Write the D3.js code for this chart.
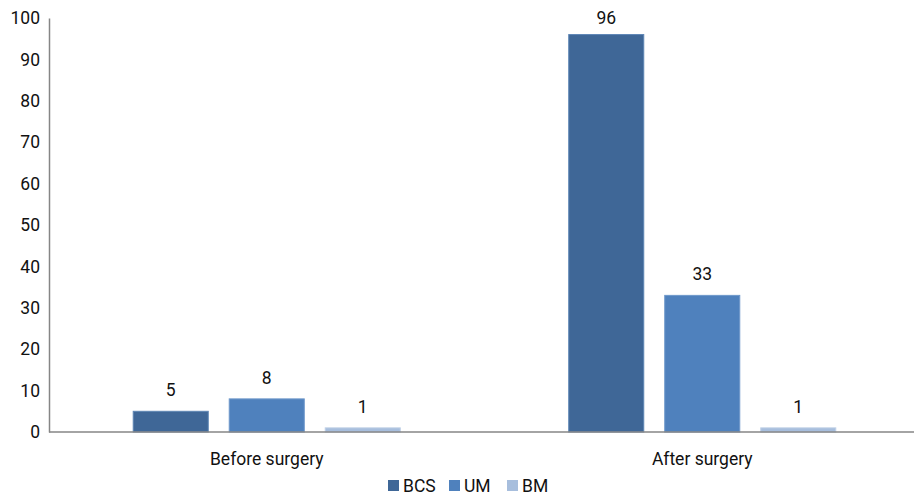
<!DOCTYPE html>
<html>
<head>
<meta charset="utf-8">
<script src="https://cdn.jsdelivr.net/npm/d3@7"></script>
<style>
  html, body { margin: 0; padding: 0; background: #fff; }
  svg { display: block; }
  text { font-family: Roboto, "Noto Sans", sans-serif; font-size: 17.5px; fill: #111; }
</style>
</head>
<body>
<div id="chart"></div>
<script>
// Chart data
const categories = ["Before surgery", "After surgery"];
const seriesNames = ["BCS", "UM", "BM"];
const bcsValues = [5, 96];
const umValues = [8, 33];
const bmValues = [1, 1];
const yTicks = [0, 10, 20, 30, 40, 50, 60, 70, 80, 90, 100];

const seriesValues = { BCS: bcsValues, UM: umValues, BM: bmValues };
const colors = { BCS: "#3F6797", UM: "#4F81BD", BM: "#A7BEDD" };
const strokes = { BCS: "#5E86B5", UM: "#6F98CB", BM: "#BFD0E7" };

const W = 914, H = 495;
const plotLeft = 49, plotTop = 18, plotBottom = 432;

const svg = d3.select("#chart").append("svg")
  .attr("width", W).attr("height", H);

const x0 = d3.scaleBand().domain(categories).range([plotLeft, 920]);
const x1 = d3.scaleBand().domain(seriesNames).range([0, x0.bandwidth()])
  .paddingInner(0.208).paddingOuter(0.872);
const y = d3.scaleLinear().domain([0, 100]).range([plotBottom, plotTop]);

// Y axis
const yAxis = svg.append("g")
  .attr("transform", `translate(${plotLeft},0)`)
  .call(d3.axisLeft(y).tickValues(yTicks).tickSize(0).tickPadding(9));
yAxis.select(".domain").attr("stroke", "#868686").attr("stroke-width", 1.5);
yAxis.selectAll("text")
  .style("font-size", "17.5px")
  .style("font-family", 'Roboto, "Noto Sans", sans-serif')
  .attr("fill", "#111");

// Bars
const groups = svg.append("g").selectAll("g")
  .data(categories).join("g")
  .attr("transform", d => `translate(${x0(d)},0)`);

groups.selectAll("rect")
  .data((c, i) => seriesNames.map(s => ({ s, v: seriesValues[s][i] })))
  .join("rect")
  .attr("x", d => x1(d.s) + 0.5)
  .attr("y", d => y(d.v))
  .attr("width", x1.bandwidth() - 1)
  .attr("height", d => y(0) - y(d.v))
  .attr("fill", d => colors[d.s])
  .attr("stroke", d => strokes[d.s])
  .attr("stroke-width", 1);

// Value labels sit above each bar, kept inside the chart's top edge
groups.selectAll("text.val")
  .data((c, i) => seriesNames.map(s => ({ s, v: seriesValues[s][i] })))
  .join("text")
  .attr("class", "val")
  .attr("x", d => x1(d.s) + x1.bandwidth() / 2)
  .attr("y", d => Math.max(y(d.v) - 15, 24))
  .attr("text-anchor", "middle")
  .text(d => d.v);

// X axis
svg.append("line")
  .attr("x1", plotLeft).attr("x2", W)
  .attr("y1", y(0)).attr("y2", y(0))
  .attr("stroke", "#868686").attr("stroke-width", 1.5);

svg.append("g").selectAll("text")
  .data(categories).join("text")
  .attr("x", d => x0(d) + x0.bandwidth() / 2)
  .attr("y", 465)
  .attr("text-anchor", "middle")
  .text(d => d);

// Legend
const legendX = [388, 449, 507];
const legend = svg.append("g").selectAll("g")
  .data(seriesNames).join("g")
  .attr("transform", (d, i) => `translate(${legendX[i]},480)`);
legend.append("rect")
  .attr("width", 11).attr("height", 11)
  .attr("fill", d => colors[d]);
legend.append("text")
  .attr("x", 15).attr("y", 11.5)
  .text(d => d);
</script>
</body>
</html>
